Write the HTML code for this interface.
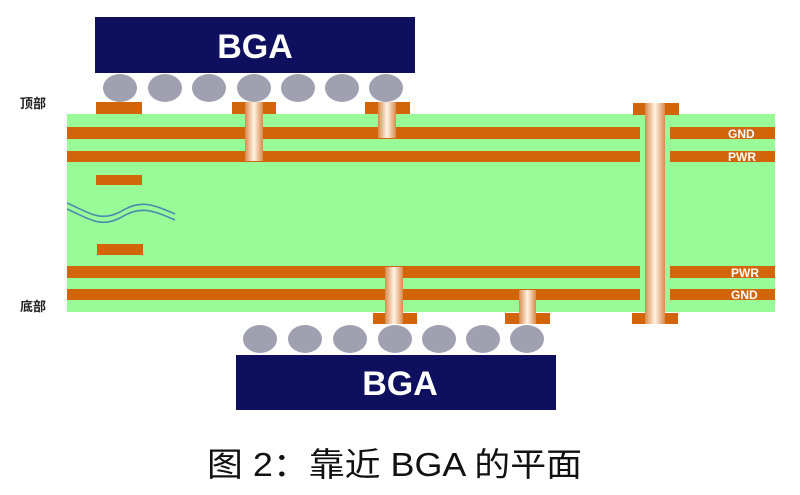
<!DOCTYPE html>
<html><head><meta charset="utf-8"><style>html,body{margin:0;padding:0;background:#fff}svg{display:block}</style></head>
<body>
<svg width="800" height="495" viewBox="0 0 800 495" xmlns="http://www.w3.org/2000/svg">
<defs>
<linearGradient id="via" x1="0" x2="1" y1="0" y2="0">
<stop offset="0" stop-color="#d98a4a"/><stop offset="0.5" stop-color="#fff3e6"/><stop offset="1" stop-color="#d98a4a"/>
</linearGradient>
</defs>
<rect x="0" y="0" width="800" height="495" fill="#fff"/>
<!-- board -->
<rect x="67" y="114" width="708" height="198" fill="#98fb98"/>
<!-- top layers -->
<rect x="67" y="127" width="573" height="12" fill="#d2640a"/>
<rect x="670" y="127" width="105" height="12" fill="#d2640a"/>
<rect x="67" y="151" width="573" height="11" fill="#d2640a"/>
<rect x="670" y="151" width="105" height="11" fill="#d2640a"/>
<rect x="67" y="266" width="573" height="12" fill="#d2640a"/>
<rect x="670" y="266" width="105" height="12" fill="#d2640a"/>
<rect x="67" y="289" width="573" height="11" fill="#d2640a"/>
<rect x="670" y="289" width="105" height="11" fill="#d2640a"/>
<!-- small traces -->
<rect x="96" y="175" width="46" height="10" fill="#d2640a"/>
<rect x="97" y="244" width="46" height="11" fill="#d2640a"/>
<!-- wave -->
<path d="M67 203 C90 213,100 222,120 212 C140 200,150 203,175 214" fill="none" stroke="#4a8ab0" stroke-width="1.6"/>
<path d="M67 209 C90 219,100 228,120 218 C140 206,150 209,175 220" fill="none" stroke="#4a8ab0" stroke-width="1.6"/>
<!-- top pads -->
<rect x="96" y="102" width="46" height="12" fill="#d2640a"/>
<rect x="232" y="102" width="44" height="12" fill="#d2640a"/>
<rect x="365" y="102" width="45" height="12" fill="#d2640a"/>
<rect x="245" y="102" width="18" height="59" fill="url(#via)"/>
<rect x="378" y="102" width="18" height="36" fill="url(#via)"/>
<!-- through via -->
<rect x="633" y="103" width="46" height="12" fill="#d2640a"/>
<rect x="632" y="313" width="46" height="11" fill="#d2640a"/>
<rect x="645" y="103" width="20" height="221" fill="url(#via)"/>
<!-- bottom vias -->
<rect x="373" y="313" width="44" height="11" fill="#d2640a"/>
<rect x="505" y="313" width="45" height="11" fill="#d2640a"/>
<rect x="385" y="267" width="18" height="57" fill="url(#via)"/>
<rect x="519" y="290" width="17" height="34" fill="url(#via)"/>
<!-- layer labels -->
<g font-family="Liberation Sans, sans-serif" font-weight="bold" font-size="12" fill="#fff">
<text x="728" y="138">GND</text><text x="728" y="161">PWR</text>
<text x="731" y="277">PWR</text><text x="731" y="299">GND</text>
</g>
<!-- top BGA -->
<rect x="95" y="17" width="320" height="56" fill="#0f0f5f"/>
<text x="255" y="58" text-anchor="middle" font-family="Liberation Sans, sans-serif" font-weight="bold" font-size="34" fill="#fff">BGA</text>
<g fill="#a0a0b0">
<ellipse cx="120" cy="88" rx="17" ry="14"/><ellipse cx="165" cy="88" rx="17" ry="14"/><ellipse cx="209" cy="88" rx="17" ry="14"/><ellipse cx="254" cy="88" rx="17" ry="14"/><ellipse cx="298" cy="88" rx="17" ry="14"/><ellipse cx="342" cy="88" rx="17" ry="14"/><ellipse cx="386" cy="88" rx="17" ry="14"/>
</g>
<!-- bottom BGA -->
<g fill="#a0a0b0">
<ellipse cx="260" cy="339" rx="17" ry="14"/><ellipse cx="305" cy="339" rx="17" ry="14"/><ellipse cx="350" cy="339" rx="17" ry="14"/><ellipse cx="395" cy="339" rx="17" ry="14"/><ellipse cx="439" cy="339" rx="17" ry="14"/><ellipse cx="483" cy="339" rx="17" ry="14"/><ellipse cx="527" cy="339" rx="17" ry="14"/>
</g>
<rect x="236" y="355" width="320" height="55" fill="#0f0f5f"/>
<text x="400" y="395" text-anchor="middle" font-family="Liberation Sans, sans-serif" font-weight="bold" font-size="34" fill="#fff">BGA</text>
<!-- side labels -->
<g font-family="Liberation Sans, 'Noto Sans CJK SC', sans-serif" font-weight="bold" font-size="13" fill="#222">
<text x="20" y="108">顶部</text><text x="20" y="311">底部</text>
</g>
<!-- caption -->
<text x="207" y="476" textLength="375" lengthAdjust="spacingAndGlyphs" font-family="Liberation Sans, 'Noto Sans CJK SC', sans-serif" font-size="33" fill="#111">图 2：靠近 BGA 的平面</text>
</svg>
</body></html>
